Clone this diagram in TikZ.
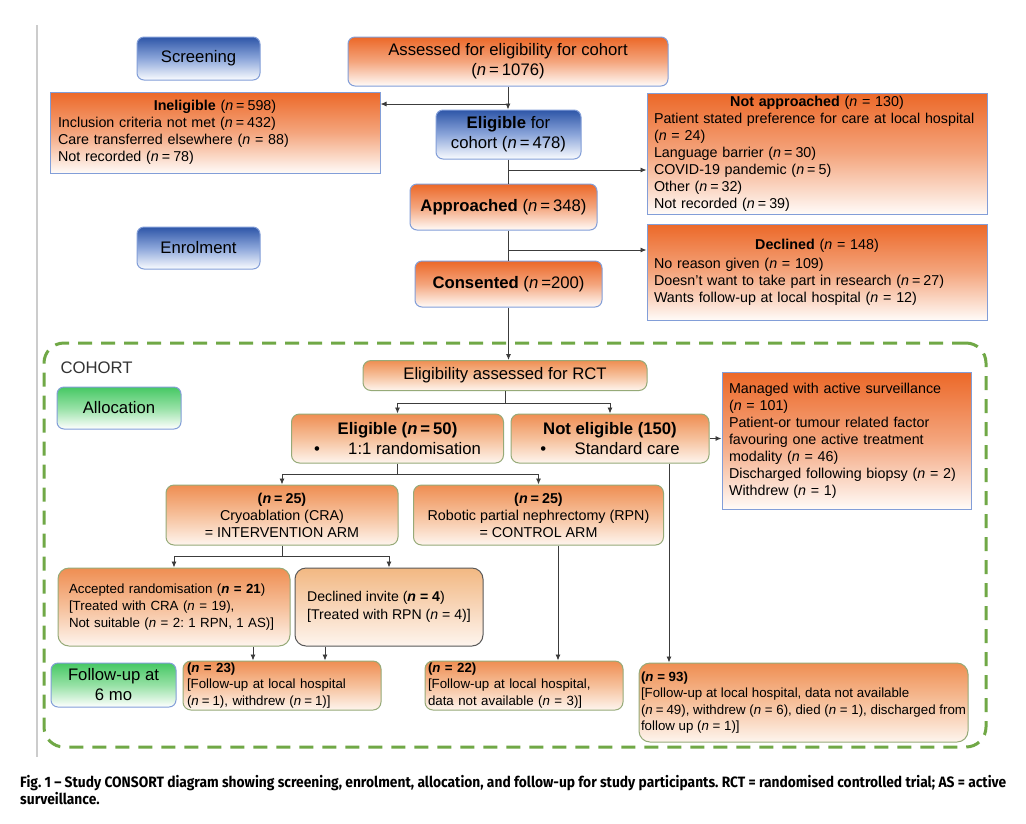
\documentclass[tikz,border=0pt]{standalone}
\usepackage{fontspec}
\setmainfont{Liberation Sans}
\newfontfamily\capfont[FakeStretch=0.92]{Fira Sans}
\usetikzlibrary{arrows.meta,calc}
\definecolor{orT}{RGB}{236,104,40}
\definecolor{orM}{RGB}{244,165,125}
\definecolor{orB}{RGB}{255,251,248}
\definecolor{blT}{RGB}{46,86,168}
\definecolor{blM}{RGB}{140,166,218}
\definecolor{blB}{RGB}{250,252,255}
\definecolor{bdBlue}{RGB}{130,158,216}
\definecolor{aoT}{RGB}{239,142,82}
\definecolor{aoM}{RGB}{246,192,155}
\definecolor{aoB}{RGB}{254,245,238}
\definecolor{liT}{RGB}{242,184,130}
\definecolor{liM}{RGB}{248,214,185}
\definecolor{bdGreen}{RGB}{150,170,120}
\definecolor{grT}{RGB}{70,200,100}
\definecolor{grM}{RGB}{150,225,165}
\definecolor{dashG}{RGB}{112,168,70}
\definecolor{lineC}{RGB}{60,60,60}
\newcommand{\nv}{\textit{n}}
\newcommand{\eqs}{\kern3pt=\kern3pt}
\newcommand{\ctitle}[1]{\makebox[\hsize][c]{#1}}
\frenchspacing
\tikzset{
  base/.style={draw, line width=1pt, inner sep=0pt, text=black},
  orbox/.style={base, draw=bdBlue, top color=orT, bottom color=orB, middle color=orM},
  blbox/.style={base, draw=bdBlue, top color=blT, bottom color=blB, middle color=blM, rounded corners=7pt},
  grbox/.style={base, draw=bdBlue, top color=grT, bottom color=white, middle color=grM, rounded corners=7pt},
  albox/.style={base, draw=bdGreen, top color=aoT, bottom color=aoB, middle color=aoM, rounded corners=8pt},
  libox/.style={base, draw=black!65, top color=liT, bottom color=aoB, middle color=liM, rounded corners=11pt},
  frame/.style={draw=dashG, line width=3pt, dash pattern=on 14pt off 9pt, rounded corners=20pt, inner sep=0pt},
  conn/.style={draw=lineC, line width=0.9pt},
  arr/.style={conn, -{Latex[length=6pt,width=5pt]}},
  fL/.style={font=\fontsize{16.7}{20}\selectfont},
  fM/.style={font=\fontsize{14.3}{17}\selectfont},
  fS/.style={font=\fontsize{13.3}{16.6}\selectfont},
}
\begin{document}
\begin{tikzpicture}[x=1pt,y=-1pt]
\useasboundingbox (0,0) rectangle (1026,823);
\fill[white] (0,0) rectangle (1026,823);
\draw[black!20, line width=1.5pt] (37,25) -- (37,757);

% cohort frame
\node[frame, minimum width=942, minimum height=404] (frame) at (515,545) {};

% ---------- screening / enrolment ----------
\node[blbox, fL, minimum width=123, minimum height=43] (screen) at (198.5,58.5) {Screening};
\node[blbox, fL, minimum width=123, minimum height=42] (enrol) at (198.5,248) {Enrolment};

\node[orbox, fL, align=center, rounded corners=7pt, minimum width=320, minimum height=49] (assess) at (508,61.5)
  {Assessed for eligibility for cohort\\(\nv\eqs1076)};
\node[orbox, fM, align=left, inner xsep=8pt, text width=314, minimum width=330, minimum height=81] (inel) at (215,132.5)
  {\ctitle{\textbf{Ineligible} (\nv\eqs598)}\\
   Inclusion criteria not met (\nv\eqs432)\\
   Care transferred elsewhere (\nv\ = 88)\\
   Not recorded (\nv\eqs78)};
\node[blbox, fL, align=center, minimum width=145, minimum height=49] (elig) at (508.5,134.5)
  {\textbf{Eligible} for\\cohort (\nv\eqs478)};
\node[orbox, fM, align=left, inner xsep=7pt, text width=326, minimum width=340, minimum height=121] (notapp) at (817,153.5)
  {\ctitle{\textbf{Not approached} (\nv\ = 130)}\\
   Patient stated preference for care at local hospital\\
   (\nv\ = 24)\\
   Language barrier (\nv\eqs30)\\
   COVID-19 pandemic (\nv\eqs5)\\
   Other (\nv\eqs32)\\
   Not recorded (\nv\eqs39)};
\node[orbox, fL, rounded corners=7pt, minimum width=187, minimum height=46] (appr) at (503.5,207)
  {\textbf{Approached} (\nv\eqs348)};
\node[orbox, fM, align=left, inner xsep=7pt, text width=326, minimum width=340, minimum height=96] (decl) at (817,272)
  {\ctitle{\textbf{Declined} (\nv\ = 148)}\\[2pt]
   No reason given (\nv\ = 109)\\
   Doesn’t want to take part in research (\nv\eqs27)\\
   Wants follow-up at local hospital (\nv\ = 12)};
\node[orbox, fL, rounded corners=7pt, minimum width=187, minimum height=46] (cons) at (508.5,284)
  {\textbf{Consented} (\nv\kern3pt=200)};

% ---------- cohort ----------
\node[anchor=west, fL, text=black!80] (cohort) at (57,368) {COHORT};
\node[grbox, fL, minimum width=124, minimum height=42] (alloc) at (119,408) {Allocation};
\node[grbox, fL, align=center, minimum width=125, minimum height=44] (fu) at (113.5,685) {Follow-up at\\6 mo};

\node[albox, fL, minimum width=284, minimum height=30] (rct) at (505,375.5) {Eligibility assessed for RCT};
\node[albox, fL, align=center, minimum width=212, minimum height=49] (elig50) at (397.5,438.5)
  {\textbf{Eligible (\textit{n}\eqs50)}\\\textbullet\hspace{1.7em}1:1 randomisation};
\node[albox, fL, align=center, minimum width=198, minimum height=49] (notel) at (610,438.5)
  {\textbf{Not eligible (150)}\\\textbullet\hspace{1.7em}Standard care};
\node[orbox, fM, align=left, inner xsep=7pt, text width=235, minimum width=249, minimum height=137] (manag) at (846.5,440.5)
  {Managed with active surveillance\\
   (\nv\ = 101)\\
   Patient-or tumour related factor\\
   favouring one active treatment\\
   modality (\nv\ = 46)\\
   Discharged following biopsy (\nv\ = 2)\\
   Withdrew (\nv\ = 1)};
\node[albox, fM, align=center, minimum width=232, minimum height=60] (cra) at (282,515)
  {\textbf{(\textit{n}\eqs25)}\\Cryoablation (CRA)\\= INTERVENTION ARM};
\node[albox, fM, align=center, minimum width=250, minimum height=60] (rpn) at (538.5,515)
  {\textbf{(\textit{n}\eqs25)}\\Robotic partial nephrectomy (RPN)\\= CONTROL ARM};
\node[albox, fS, rounded corners=11pt, align=left, inner xsep=11pt, text width=210, minimum width=232, minimum height=78] (acc) at (174,607)
  {Accepted randomisation (\textbf{\textit{n}\ = 21})\\
   {[}Treated with CRA (\nv\ = 19),\\
   Not suitable (\nv\ = 2: 1 RPN, 1 AS)]};
\node[libox, font=\fontsize{14.1}{17.5}\selectfont, align=left, minimum width=188, minimum height=78] (decinv) at (389,607)
  {Declined invite (\textbf{\textit{n}\ = 4})\\
   {[}Treated with RPN (\nv\ = 4)]};
\node[albox, fS, align=left, inner xsep=4pt, text width=190, minimum width=198, minimum height=49] (n23) at (282,685.5)
  {\textbf{(\textit{n}\ = 23)}\\
   {[}Follow-up at local hospital\\
   (\nv\eqs1), withdrew (\nv\eqs1)]};
\node[albox, fS, align=left, inner xsep=3pt, text width=192, minimum width=198, minimum height=49] (n22) at (524,685.5)
  {\textbf{(\textit{n}\ = 22)}\\
   {[}Follow-up at local hospital,\\
   data not available (\nv\ = 3)]};
\node[albox, fS, rounded corners=11pt, align=left, minimum width=329, minimum height=79] (n93) at (803.5,702.5)
  {\textbf{(\textit{n}\ = 93)}\\
   {[}Follow-up at local hospital, data not available\\
   (\nv\eqs49), withdrew (\nv\ = 6), died (\nv\ = 1), discharged from\\
   follow up (\nv\ = 1)]};

% ---------- connectors ----------
\draw[arr] (assess.south) -- (assess.south |- elig.north);
\coordinate (j1) at (508,104);
\draw[arr] (j1) -- (j1 -| inel.east);
\draw[conn] (elig.south) -- (elig.south |- appr.north);
\coordinate (j2) at (508.5,170);
\draw[arr] (j2) -- (j2 -| notapp.west);
\draw[conn] (appr.south -| cons.north) -- (cons.north);
\coordinate (j3) at (508.5,250);
\draw[arr] (j3) -- (j3 -| decl.west);
\draw[arr] (cons.south) -- (cons.south |- rct.north);

\coordinate (b1) at (505,403);
\draw[conn] (rct.south) -- (b1);
\draw[conn] (elig50.north |- b1) -- (notel.north |- b1);
\draw[arr] (elig50.north |- b1) -- (elig50.north);
\draw[arr] (notel.north |- b1) -- (notel.north);
\draw[arr] (notel.east) -- (notel.east -| manag.west);

\coordinate (b2) at (397.5,474);
\draw[conn] (elig50.south) -- (b2);
\draw[conn] (cra.north |- b2) -- (rpn.north |- b2);
\draw[arr] (cra.north |- b2) -- (cra.north);
\draw[arr] (rpn.north |- b2) -- (rpn.north);

\coordinate (b3) at (282,556);
\draw[conn] (cra.south) -- (b3);
\draw[conn] (acc.north |- b3) -- (decinv.north |- b3);
\draw[arr] (acc.north |- b3) -- (acc.north);
\draw[arr] (decinv.north |- b3) -- (decinv.north);

\draw[arr] ([xshift=79pt]acc.south) -- ([xshift=79pt]acc.south |- n23.north);
\draw[arr] ([xshift=-64pt]decinv.south) -- ([xshift=-64pt]decinv.south |- n23.north);
\draw[arr] ([xshift=19.5pt]rpn.south) -- ([xshift=19.5pt]rpn.south |- n22.north);
\draw[arr] ([xshift=59pt]notel.south) -- ([xshift=59pt]notel.south |- n93.north);

% ---------- caption ----------
\node[anchor=north west, align=left, inner sep=0pt, font=\capfont\bfseries\fontsize{15}{17.5}\selectfont] (caption) at (20,775)
  {Fig. 1 – Study CONSORT diagram showing screening, enrolment, allocation, and follow-up for study participants. RCT = randomised controlled trial; AS = active\\surveillance.};
\end{tikzpicture}
\end{document}
